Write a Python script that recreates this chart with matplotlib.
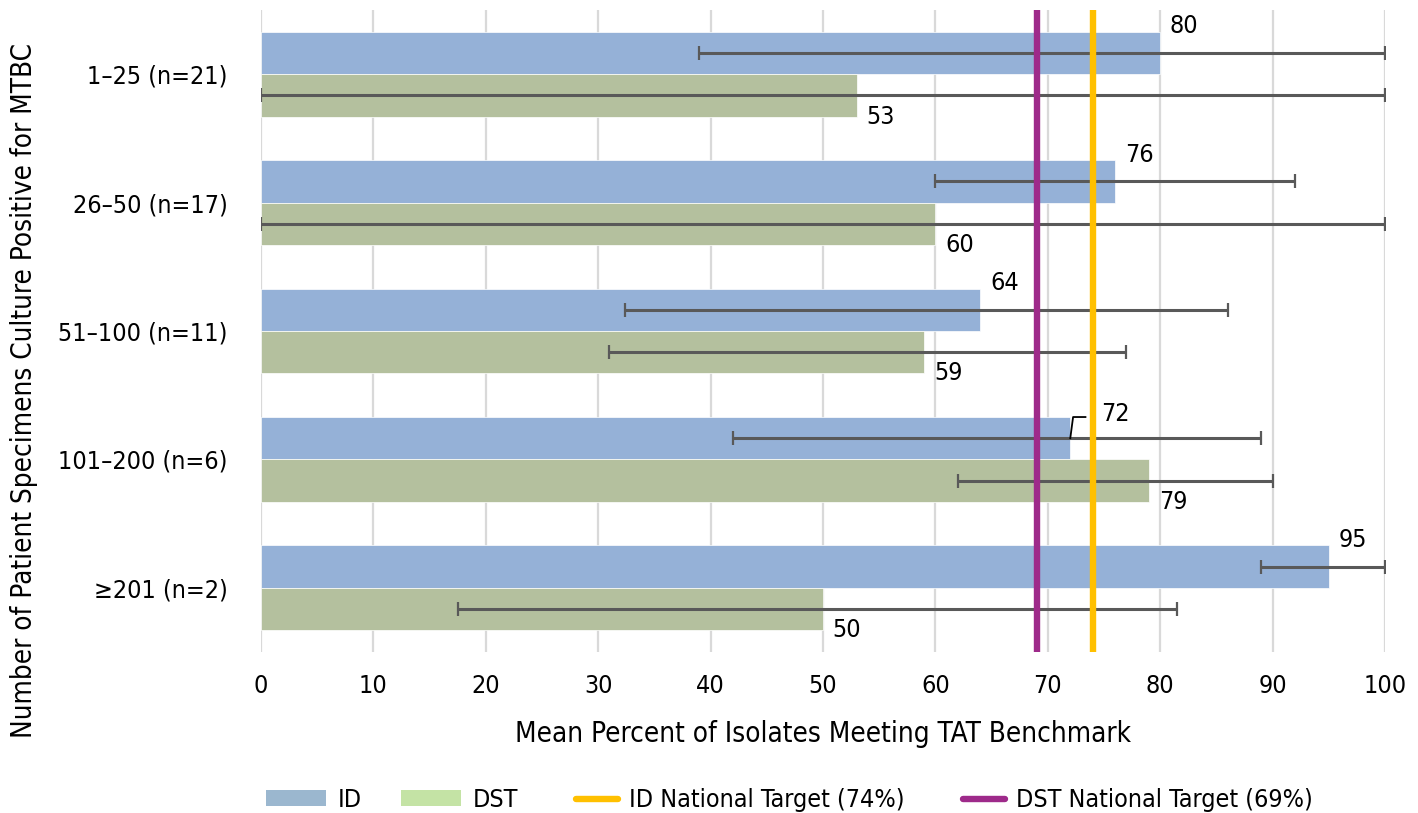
import numpy as np
import matplotlib.pyplot as plt
from matplotlib.patches import Patch
from matplotlib.lines import Line2D

plt.rcParams['font.family'] = ['Liberation Sans Narrow', 'DejaVu Sans']
plt.rcParams['font.stretch'] = 'condensed'

# specimen volume groups (top to bottom)
groups = ['1–25 (n=21)', '26–50 (n=17)', '51–100 (n=11)', '101–200 (n=6)', '≥201 (n=2)']

# mean percent meeting TAT benchmark
id_mean = [80, 76, 64, 72, 95]
dst_mean = [53, 60, 59, 79, 50]

# error bar ranges (low, high)
id_lo = [39, 60, 32.4, 42, 89]
id_hi = [100, 92, 86, 89, 100]
dst_lo = [0, 0, 31, 62, 17.5]
dst_hi = [100, 100, 77, 90, 81.5]

id_target = 74
dst_target = 69

xticks = list(range(0, 101, 10))

c_id = '#95b1d7'
c_dst = '#b4c09e'
c_id_leg = '#9bb7cf'
c_dst_leg = '#c4e3a5'
c_gold = '#ffc000'
c_purple = '#9e2a8a'
c_err = '#595959'

fig = plt.figure(figsize=(14.18, 8.13), dpi=100)
ax = fig.add_axes([261/1418, 1 - 652/813, 1124/1418, 642/813])

y = np.arange(len(groups))
h = 0.33
y_id = y - h/2
y_dst = y + h/2

ax.barh(y_id, id_mean, height=h, color=c_id, edgecolor='white', linewidth=0.5, zorder=2)
ax.barh(y_dst, dst_mean, height=h, color=c_dst, edgecolor='white', linewidth=0.5, zorder=2)

id_mean_a = np.array(id_mean)
dst_mean_a = np.array(dst_mean)
id_err = [id_mean_a - np.array(id_lo), np.array(id_hi) - id_mean_a]
dst_err = [dst_mean_a - np.array(dst_lo), np.array(dst_hi) - dst_mean_a]
for yy, m, err in [(y_id, id_mean_a, id_err), (y_dst, dst_mean_a, dst_err)]:
    ax.errorbar(m, yy, xerr=err, fmt='none', ecolor=c_err, elinewidth=2.2,
                capsize=5, capthick=1.6, zorder=3)

ax.axvline(dst_target, color=c_purple, lw=4.6, zorder=4)
ax.axvline(id_target, color=c_gold, lw=4.6, zorder=4)

# value labels: ID above the bar end, DST below it
for i, v in enumerate(id_mean):
    top = y_id[i] - h/2
    if i == 3:
        # label pushed past the target line, with a leader line
        ax.annotate(str(v), xy=(v, top), xytext=(22, 2), textcoords='offset points',
                    ha='left', va='center', fontsize=18, zorder=5)
        ax.plot([v, v + 0.25, v + 1.35], [y_id[i], top, top], color='black',
                lw=1.3, zorder=5)
    else:
        ax.annotate(str(v), xy=(v, top), xytext=(7, 4), textcoords='offset points',
                    ha='left', va='center', fontsize=18, zorder=5)
for i, v in enumerate(dst_mean):
    bottom = y_dst[i] + h/2
    ax.annotate(str(v), xy=(v, bottom), xytext=(7, 0), textcoords='offset points',
                ha='left', va='center', fontsize=18, zorder=5)

ax.set_xlim(0, 100)
ax.set_ylim(4.5, -0.5)
ax.set_xticks(xticks)
ax.set_yticks(y)
ax.set_yticklabels(groups)
ax.tick_params(axis='x', length=0, pad=16, labelsize=18)
ax.tick_params(axis='y', length=0, pad=24, labelsize=18)
ax.xaxis.grid(True, color='#d9d9d9', lw=1.6, zorder=0)
ax.set_axisbelow(True)
for s in ax.spines.values():
    s.set_visible(False)

ax.set_xlabel('Mean Percent of Isolates Meeting TAT Benchmark', fontsize=20)
ax.xaxis.set_label_coords(0.5, -0.106)
ax.set_ylabel('Number of Patient Specimens Culture Positive for MTBC', fontsize=20)
ax.yaxis.set_label_coords(-0.198, 0.408)

handles = [
    Patch(facecolor=c_id_leg, label='ID'),
    Patch(facecolor=c_dst_leg, label='DST'),
    Line2D([], [], color=c_gold, lw=4.6, solid_capstyle='round', label='ID National Target (74%)'),
    Line2D([], [], color=c_purple, lw=4.6, solid_capstyle='round', label='DST National Target (69%)'),
]
leg = fig.legend(handles=handles, loc='center left', bbox_to_anchor=(266/1418, 1 - 800/813),
                 ncol=4, frameon=False, fontsize=18, handlelength=2.4, handleheight=0.6,
                 handletextpad=0.45, columnspacing=1.6, borderpad=0, borderaxespad=0)
# shorten the line handles, keeping their right end next to the text
for ln in leg.get_lines():
    xd = np.asarray(ln.get_xdata(), dtype=float)
    x0, x1 = xd.min(), xd.max()
    ln.set_xdata([x0 + 0.3*(x1 - x0), x1])
    ln.set_ydata([ln.get_ydata()[0]] * 2)

fig.savefig('out.png', dpi=100)
